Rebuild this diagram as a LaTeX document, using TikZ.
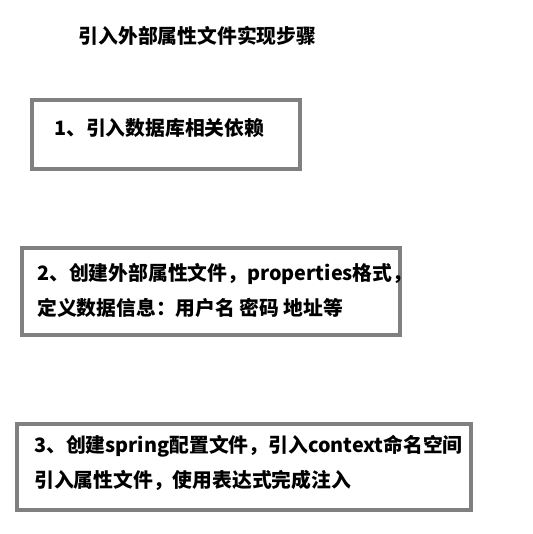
\documentclass[tikz,border=0pt]{standalone}
\usepackage{fontspec}
\setmainfont{Noto Sans CJK SC}
\begin{document}
\begin{tikzpicture}[x=1pt,y=-1pt,
  stepbox/.style={draw=black!50, line width=3.5pt, fill=white, inner sep=0pt},
  txt/.style={inner sep=0pt, anchor=west, font=\fontsize{19.8}{35}\selectfont\bfseries, align=left, text=black}]
\useasboundingbox (0,0) rectangle (532,534);
\node[txt, anchor=center] (title) at (197.5,36) {引入外部属性文件实现步骤};
\node[stepbox, minimum width=268pt, minimum height=69pt] (b1) at (166,134.5) {};
\node[txt] (t1) at (54,128) {1、引入数据库相关依赖};
\node[stepbox, minimum width=378pt, minimum height=87pt] (b2) at (211,291.5) {};
\node[txt] (t2) at (37,290.5) {2、创建外部属性文件，properties格式，\\定义数据信息：用户名 密码 地址等};
\node[stepbox, minimum width=454pt, minimum height=86pt] (b3) at (244,467) {};
\node[txt] (t3) at (34,462.5) {3、创建spring配置文件，引入context命名空间\\引入属性文件，使用表达式完成注入};
\end{tikzpicture}
\end{document}
